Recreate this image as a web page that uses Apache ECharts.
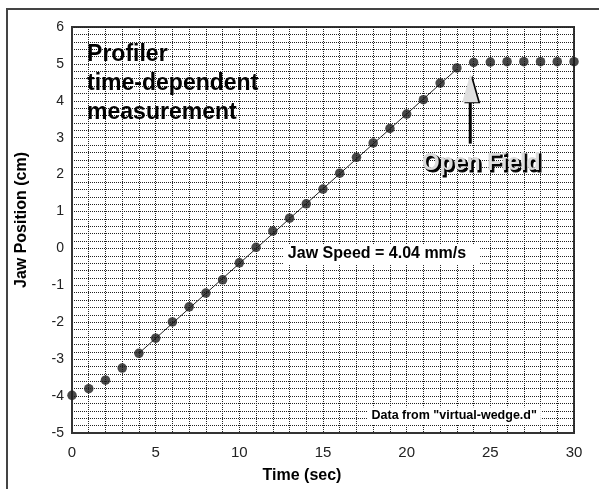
<!DOCTYPE html>
<html>
<head>
<meta charset="utf-8">
<script src="https://cdn.jsdelivr.net/npm/echarts@6/dist/echarts.min.js"></script>
<style>
html,body{margin:0;padding:0;background:#fff;}
#chart{width:599px;height:489px;}
</style>
</head>
<body>
<div id="chart"></div>
<script>
// ---- data ----
var times = [0,1,2,3,4,5,6,7,8,9,10,11,12,13,14,15,16,17,18,19,20,21,22,23,24,25,26,27,28,29,30];
var positions = [-3.98,-3.80,-3.57,-3.24,-2.84,-2.43,-1.99,-1.58,-1.21,-0.85,-0.39,0.03,0.47,0.82,1.21,1.61,2.04,2.47,2.86,3.25,3.64,4.03,4.48,4.89,5.04,5.05,5.06,5.06,5.06,5.06,5.06];
var fitTimes = [4, 23];
var fitPositions = [-2.84, 4.86];
var xTicks = [0,5,10,15,20,25,30];
var yTicks = [-5,-4,-3,-2,-1,0,1,2,3,4,5,6];
var noteText = ['Profiler', 'time-dependent', 'measurement'];
var speedText = 'Jaw Speed = 4.04 mm/s';
var openFieldText = 'Open Field';
var sourceText = 'Data from "virtual-wedge.d"';

var FONT = '"Liberation Sans", Arial, Helvetica, sans-serif';
var chart = echarts.init(document.getElementById('chart'), null, {renderer: 'canvas'});

var pts = times.map(function (t, i) { return [t, positions[i]]; });
var fit = fitTimes.map(function (t, i) { return [t, fitPositions[i]]; });
var gridLine = {show: true, lineStyle: {color: '#222', width: 1, type: [1, 1]}};

chart.setOption({
  animation: false,
  backgroundColor: '#fff',
  grid: {left: 72, right: 25, top: 27, bottom: 51, show: true, borderColor: '#333', borderWidth: 2, backgroundColor: 'transparent'},
  xAxis: {
    type: 'value', min: xTicks[0], max: xTicks[xTicks.length - 1], interval: 5,
    name: 'Time (sec)', nameLocation: 'middle', nameGap: 35,
    nameTextStyle: {fontFamily: FONT, fontWeight: 'bold', fontSize: 16, color: '#000', padding: [0, 42, 0, 0]},
    axisLine: {show: true, onZero: false, lineStyle: {color: '#333', width: 2}},
    axisTick: {show: false},
    axisLabel: {fontFamily: FONT, fontSize: 15, color: '#222', margin: 12},
    splitLine: gridLine,
    minorTick: {show: false, splitNumber: 5},
    minorSplitLine: gridLine
  },
  yAxis: {
    type: 'value', min: yTicks[0], max: yTicks[yTicks.length - 1], interval: 1,
    name: 'Jaw Position (cm)', nameLocation: 'middle', nameGap: 42, nameRotate: 90,
    nameTextStyle: {fontFamily: FONT, fontWeight: 'bold', fontSize: 16, color: '#000', padding: [0, 0, 0, 20]},
    axisLine: {show: true, onZero: false, lineStyle: {color: '#333', width: 2}},
    axisTick: {show: false},
    axisLabel: {fontFamily: FONT, fontSize: 14, color: '#222', margin: 8},
    splitLine: gridLine,
    minorTick: {show: false, splitNumber: 5},
    minorSplitLine: gridLine
  },
  series: [
    {
      type: 'line', data: fit, symbol: 'none', z: 3,
      lineStyle: {color: '#222', width: 1}
    },
    {
      type: 'scatter', data: pts, symbol: 'circle', symbolSize: 9.5, z: 4,
      itemStyle: {color: '#1a1a1a'}
    }
  ]
});

function px(x, y) { return chart.convertToPixel({gridIndex: 0}, [x, y]); }

// annotation anchors (data coords)
var profilerAnchor = px(0.9, 5.25);
var speedAnchor = px(12.9, -0.15);
var sourceAnchor = px(17.9, -4.53);
var openAnchor = px(24.45, 2.31);
var arrowTop = px(23.8, 4.72);
var arrowBase = px(23.8, 2.84);

var graphics = [];
// outer frame
graphics.push({type: 'polyline', shape: {points: [[7, 520], [7, 9], [620, 9]]}, style: {stroke: '#444', lineWidth: 2, fill: null}, z: 10});

noteText.forEach(function (s, i) {
  graphics.push({type: 'text', x: profilerAnchor[0], y: profilerAnchor[1] + i * 29,
    style: {text: s, font: 'bold 23px ' + FONT, fill: '#000', verticalAlign: 'middle', align: 'left'}, z: 20});
});
graphics.push({type: 'text', x: speedAnchor[0] - 4, y: speedAnchor[1],
  style: {text: speedText, font: 'bold 16px ' + FONT, fill: '#000', verticalAlign: 'middle', align: 'left',
    backgroundColor: '#fff', padding: [2, 14, 2, 4]}, z: 20});
graphics.push({type: 'text', x: sourceAnchor[0] - 4, y: sourceAnchor[1],
  style: {text: sourceText, font: 'bold 12.5px ' + FONT, fill: '#000', verticalAlign: 'middle', align: 'left',
    backgroundColor: '#fff', padding: [2, 4, 2, 4]}, z: 20});
// "Open Field": dark offset copy underneath, light copy on top
graphics.push({type: 'text', x: openAnchor[0] + 2, y: openAnchor[1] + 2,
  style: {text: openFieldText, font: 'bold 23px ' + FONT, fill: '#000', verticalAlign: 'middle', align: 'center',
    stroke: '#000', lineWidth: 1}, z: 20});
graphics.push({type: 'text', x: openAnchor[0], y: openAnchor[1],
  style: {text: openFieldText, font: 'bold 23px ' + FONT, fill: '#dcdcdc', verticalAlign: 'middle', align: 'center'}, z: 21});
// arrow
var ax = arrowTop[0];
var headH = 28, headW = 8;
graphics.push({type: 'line', shape: {x1: ax, y1: arrowBase[1], x2: ax, y2: arrowTop[1] + headH - 2}, style: {stroke: '#000', lineWidth: 3}, z: 20});
graphics.push({type: 'polygon', shape: {points: [[ax + 2, arrowTop[1] + 1], [ax + headW + 2, arrowTop[1] + headH + 1], [ax - headW + 2, arrowTop[1] + headH + 1]]}, style: {fill: '#000'}, z: 20});
graphics.push({type: 'polygon', shape: {points: [[ax, arrowTop[1]], [ax + headW, arrowTop[1] + headH], [ax - headW, arrowTop[1] + headH]]}, style: {fill: '#e0e0e0'}, z: 21});

chart.setOption({graphic: graphics});
</script>
</body>
</html>
